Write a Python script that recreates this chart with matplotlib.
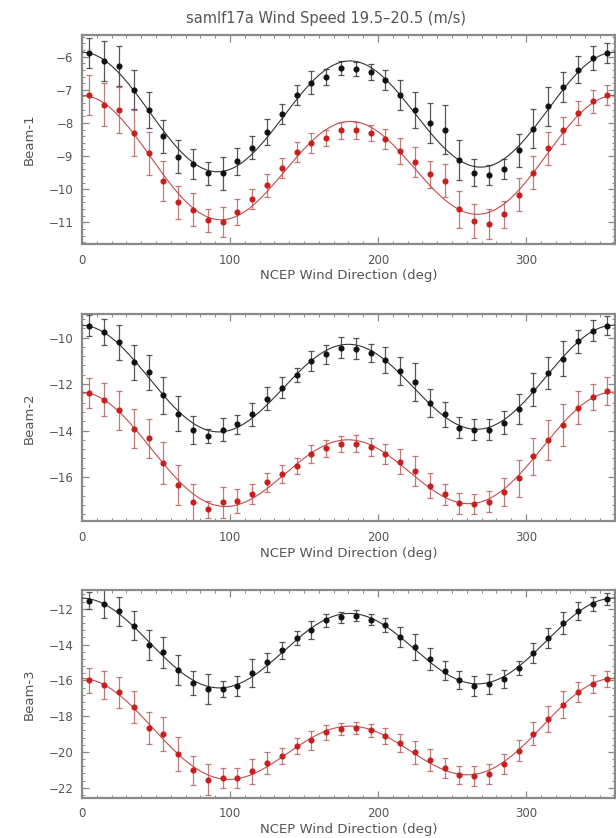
import numpy as np
import matplotlib
matplotlib.use("Agg")
import matplotlib.pyplot as plt
from matplotlib.ticker import MultipleLocator

# wind direction bins (deg)
direction = np.arange(5, 360, 10)

# Beam-1 sigma0 (dB): black = fore, red = aft
beam1_black = [-5.89, -6.14, -6.27, -6.99, -7.60, -8.40, -9.02, -9.25, -9.52, -9.52,
               -9.16, -8.75, -8.28, -7.73, -7.15, -6.79, -6.61, -6.34, -6.37, -6.46,
               -6.69, -7.15, -7.60, -8.00, -8.20, -9.12, -9.50, -9.57, -9.38, -8.82,
               -8.17, -7.50, -6.91, -6.39, -6.04, -5.89]
beam1_red = [-7.15, -7.45, -7.60, -8.30, -8.92, -9.75, -10.39, -10.62, -10.94, -10.98,
             -10.69, -10.29, -9.88, -9.36, -8.88, -8.60, -8.45, -8.22, -8.22, -8.30,
             -8.48, -8.85, -9.18, -9.55, -9.75, -10.61, -10.96, -11.04, -10.76, -10.16,
             -9.50, -8.77, -8.22, -7.70, -7.35, -7.16]
beam1_black_err = [0.45, 0.60, 0.60, 0.60, 0.55, 0.50, 0.50, 0.45, 0.35, 0.50,
                   0.40, 0.35, 0.40, 0.30, 0.30, 0.35, 0.25, 0.20, 0.20, 0.25,
                   0.30, 0.45, 0.55, 0.60, 0.75, 0.60, 0.40, 0.30, 0.30, 0.50,
                   0.60, 0.60, 0.45, 0.40, 0.35, 0.30]
beam1_red_err = [0.60, 0.65, 0.70, 0.70, 0.65, 0.60, 0.50, 0.50, 0.35, 0.45,
                 0.40, 0.30, 0.35, 0.30, 0.30, 0.30, 0.25, 0.25, 0.25, 0.25,
                 0.30, 0.40, 0.45, 0.40, 0.50, 0.55, 0.50, 0.45, 0.40, 0.50,
                 0.50, 0.50, 0.40, 0.35, 0.35, 0.30]

# Beam-2
beam2_black = [-9.49, -9.77, -10.20, -11.06, -11.49, -12.49, -13.27, -13.96, -14.24, -13.96,
               -13.74, -13.30, -12.63, -12.16, -11.63, -11.01, -10.73, -10.44, -10.49, -10.67,
               -10.96, -11.44, -11.91, -12.81, -13.31, -13.87, -13.96, -13.96, -13.67, -13.09,
               -12.24, -11.53, -10.91, -10.16, -9.70, -9.49]
beam2_red = [-12.39, -12.67, -13.13, -13.92, -14.34, -15.41, -16.34, -17.09, -17.39, -17.09,
             -17.03, -16.73, -16.23, -15.87, -15.52, -15.01, -14.77, -14.59, -14.56, -14.70,
             -15.01, -15.34, -15.74, -16.37, -16.74, -17.13, -17.16, -17.06, -16.63, -16.06,
             -15.10, -14.41, -13.77, -13.01, -12.56, -12.30]
beam2_black_err = [0.45, 0.55, 0.75, 0.75, 0.75, 0.80, 0.75, 0.60, 0.30, 0.50,
                   0.40, 0.50, 0.50, 0.45, 0.30, 0.45, 0.40, 0.45, 0.45, 0.40,
                   0.55, 0.60, 0.80, 0.60, 0.55, 0.45, 0.45, 0.45, 0.50, 0.65,
                   0.70, 0.70, 0.75, 0.50, 0.45, 0.40]
beam2_red_err = [0.65, 0.70, 0.85, 0.85, 0.85, 0.90, 0.85, 0.80, 0.35, 0.65,
                 0.50, 0.45, 0.40, 0.40, 0.35, 0.40, 0.35, 0.35, 0.35, 0.40,
                 0.45, 0.55, 0.65, 0.55, 0.45, 0.45, 0.45, 0.45, 0.60, 0.80,
                 0.80, 0.85, 0.90, 0.70, 0.55, 0.60]

# Beam-3
beam3_black = [-11.54, -11.72, -12.15, -12.95, -14.01, -14.44, -15.41, -16.15, -16.49, -16.49,
               -16.30, -15.59, -15.00, -14.33, -13.64, -13.21, -12.65, -12.47, -12.39, -12.61,
               -12.89, -13.58, -14.14, -14.81, -15.45, -16.00, -16.30, -16.19, -15.93, -15.31,
               -14.48, -13.64, -12.80, -12.15, -11.72, -11.46]
beam3_red = [-16.00, -16.25, -16.67, -17.49, -18.67, -18.98, -20.12, -21.03, -21.55, -21.46,
             -21.46, -21.09, -20.62, -20.21, -19.69, -19.36, -18.91, -18.72, -18.67, -18.80,
             -19.09, -19.50, -20.03, -20.44, -20.90, -21.27, -21.33, -21.22, -20.66, -19.92,
             -18.98, -18.16, -17.36, -16.67, -16.19, -15.93]
beam3_black_err = [0.45, 0.80, 0.80, 0.80, 0.85, 0.85, 0.85, 0.65, 0.85, 0.45,
                   0.55, 0.80, 0.55, 0.45, 0.40, 0.50, 0.35, 0.30, 0.30, 0.30,
                   0.40, 0.55, 0.75, 0.60, 0.55, 0.50, 0.55, 0.55, 0.50, 0.40,
                   0.55, 0.55, 0.60, 0.50, 0.40, 0.35]
beam3_red_err = [0.70, 0.80, 0.85, 0.90, 0.90, 0.95, 0.95, 0.80, 0.85, 0.55,
                 0.55, 0.70, 0.60, 0.45, 0.45, 0.55, 0.40, 0.35, 0.35, 0.35,
                 0.45, 0.50, 0.65, 0.60, 0.55, 0.50, 0.55, 0.55, 0.55, 0.60,
                 0.65, 0.70, 0.75, 0.55, 0.50, 0.45]

beams = [
    ("Beam-1", beam1_black, beam1_black_err, beam1_red, beam1_red_err),
    ("Beam-2", beam2_black, beam2_black_err, beam2_red, beam2_red_err),
    ("Beam-3", beam3_black, beam3_black_err, beam3_red, beam3_red_err),
]
ylims = [(-11.65, -5.35), (-17.9, -9.0), (-22.56, -10.95)]
yticks = [np.arange(-11, -5, 1), np.arange(-16, -9, 2), np.arange(-22, -11, 2)]
yminor = [0.2, 0.4, 0.4]
positions = [[0.133, 0.709, 0.865, 0.249],
             [0.133, 0.378, 0.865, 0.247],
             [0.133, 0.048, 0.865, 0.248]]


def harmonic_fit(x, y, xs):
    # a0 + a1 cos + b1 sin + a2 cos2 + b2 sin2, least squares
    t = np.radians(x)
    A = np.column_stack([np.ones_like(t), np.cos(t), np.sin(t), np.cos(2 * t), np.sin(2 * t)])
    c, *_ = np.linalg.lstsq(A, np.asarray(y), rcond=None)
    ts = np.radians(xs)
    B = np.column_stack([np.ones_like(ts), np.cos(ts), np.sin(ts), np.cos(2 * ts), np.sin(2 * ts)])
    return B @ c


text_col = "#555555"
frame_col = "#8a8a8a"

fig = plt.figure(figsize=(6.16, 8.38), dpi=100, facecolor="white")
xs = np.linspace(0, 360, 361)

for i, (label, yb, eb, yr, er) in enumerate(beams):
    ax = fig.add_axes(positions[i])

    ax.errorbar(direction, yr, yerr=er, fmt="none", ecolor="#b85a5a",
                elinewidth=0.9, capsize=2.2, capthick=0.9, alpha=0.8, zorder=2)
    ax.errorbar(direction, yb, yerr=eb, fmt="none", ecolor="#3a3a3a",
                elinewidth=0.9, capsize=2.2, capthick=0.9, alpha=0.85, zorder=2)
    ax.plot(xs, harmonic_fit(direction, yr, xs), color="#c84a4a", lw=0.8, zorder=3)
    ax.plot(xs, harmonic_fit(direction, yb, xs), color="#333333", lw=0.8, zorder=3)
    ax.plot(direction, yr, "o", color="#c81e1e", ms=3.4, zorder=4)
    ax.plot(direction, yb, "o", color="#111111", ms=3.4, zorder=4)

    ax.set_xlim(0, 360)
    ax.set_ylim(*ylims[i])
    ax.set_xticks([0, 100, 200, 300])
    ax.xaxis.set_minor_locator(MultipleLocator(10))
    ax.set_yticks(yticks[i])
    ax.yaxis.set_minor_locator(MultipleLocator(yminor[i]))
    ax.tick_params(which="both", direction="in", top=True, right=True,
                   colors=frame_col, labelcolor=text_col, labelsize=8.5)
    ax.tick_params(which="major", length=5, width=0.9)
    ax.tick_params(which="minor", length=2.5, width=0.7)
    ax.tick_params(axis="x", pad=7)
    ax.tick_params(axis="y", pad=6)
    for s in ax.spines.values():
        s.set_color(frame_col)
        s.set_linewidth(1.6)

    ax.set_xlabel("NCEP Wind Direction (deg)", color=text_col, fontsize=9.5, labelpad=2)
    ax.set_ylabel(label, color=text_col, fontsize=9.5, labelpad=9)

fig.text(0.53, 0.978, "samlf17a Wind Speed 19.5\u201320.5 (m/s)", ha="center", va="center",
         color=text_col, fontsize=10.5)

fig.savefig("out.png", dpi=100, facecolor="white")
